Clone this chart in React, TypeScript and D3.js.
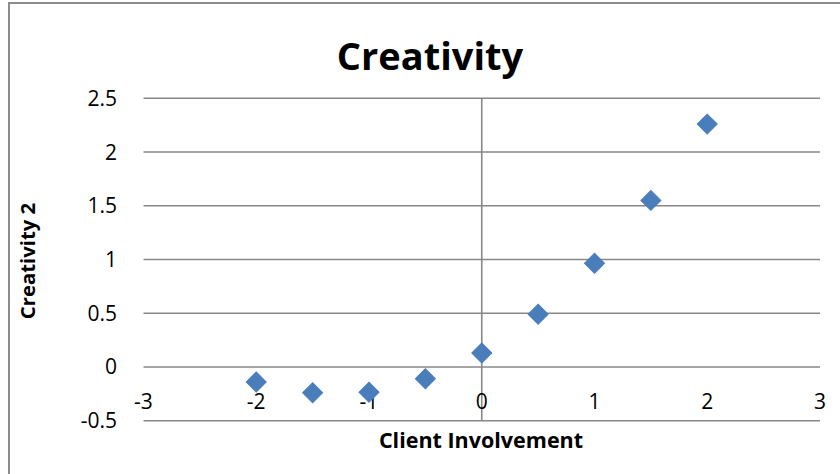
import React from "react";
import * as d3 from "d3";

const involvement = [-2, -1.5, -1, -0.5, 0, 0.5, 1, 1.5, 2];
const creativity = [-0.14, -0.24, -0.235, -0.11, 0.13, 0.49, 0.965, 1.55, 2.26];
const xTicks = [-3, -2, -1, 0, 1, 2, 3];
const yTicks = [-0.5, 0, 0.5, 1, 1.5, 2, 2.5];

const W = 840;
const H = 474;
const FONT = "'Open Sans', 'Noto Sans', sans-serif";

export default function App() {
  const x = d3.scaleLinear().domain([-3, 3]).range([143.5, 820]);
  const y = d3.scaleLinear().domain([-0.5, 2.5]).range([420.7, 98.3]);
  const diamond = d3.symbol().type(d3.symbolSquare).size(200)();
  const points = d3.zip(involvement, creativity);

  return (
    <div style={{ position: "fixed", left: 0, top: 0 }}>
      <svg width={W} height={H} style={{ display: "block", background: "#fff" }}>
        {/* chart frame */}
        <rect x={9} y={3} width={W + 10} height={H + 10} fill="#fff" stroke="#8c8c8c" strokeWidth={2} />
        <text x={430} y={70} textAnchor="middle" fontFamily={FONT} fontWeight={700} fontSize={38} fill="#000">
          Creativity
        </text>

        {/* horizontal gridlines */}
        {yTicks.map((t) => (
          <line key={"g" + t} x1={x(-3)} x2={x(3)} y1={y(t)} y2={y(t)} stroke="#878787" strokeWidth={1.6} />
        ))}
        {/* vertical axis at x = 0 */}
        <line x1={x(0)} x2={x(0)} y1={y(2.5)} y2={y(-0.5)} stroke="#878787" strokeWidth={1.6} />

        {/* y tick labels */}
        {yTicks.map((t) => (
          <text key={"y" + t} x={117} y={y(t) + 7.5} textAnchor="end" fontFamily={FONT} fontSize={21} fill="#000">
            {t}
          </text>
        ))}
        {/* x tick labels */}
        {xTicks.map((t) => (
          <text key={"x" + t} x={x(t)} y={409} textAnchor="middle" fontFamily={FONT} fontSize={21} fill="#000">
            {t}
          </text>
        ))}

        {/* axis titles */}
        <text x={481} y={448} textAnchor="middle" fontFamily={FONT} fontWeight={700} fontSize={21.5} fill="#000">
          Client Involvement
        </text>
        <text
          transform={`translate(35, 261) rotate(-90)`}
          textAnchor="middle"
          fontFamily={FONT}
          fontWeight={700}
          fontSize={20.3}
          fill="#000"
        >
          Creativity 2
        </text>

        {/* data markers */}
        {points.map(([a, b], i) => (
          <path
            key={i}
            d={diamond ?? ""}
            transform={`translate(${x(a)}, ${y(b)}) rotate(45)`}
            fill="#4a7ebb"
            stroke="#4a7ebb"
            strokeWidth={1}
          />
        ))}
      </svg>
    </div>
  );
}
